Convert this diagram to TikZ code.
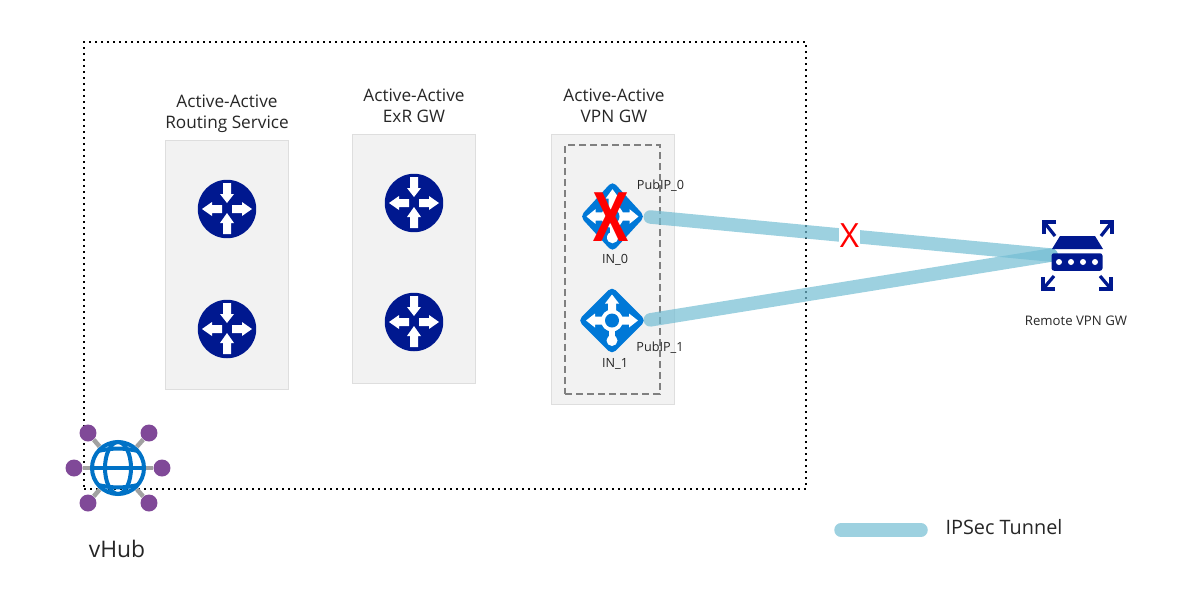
\documentclass[tikz,border=0pt]{standalone}
\usepackage{fontspec}
\setmainfont{Open Sans}
\usepackage{xcolor}
\usetikzlibrary{shapes.geometric}
\definecolor{rtrblue}{HTML}{00188F}
\definecolor{inblue}{HTML}{0078D7}
\definecolor{globeblue}{HTML}{0072C6}
\definecolor{hubpurple}{HTML}{804998}
\definecolor{tunnelblue}{RGB}{115,189,211}
\pgfdeclarelayer{front}
\pgfsetlayers{main,front}
% white arrow lying on the x axis: tail, head base, tip
\newcommand{\arrowshape}[3]{(#1,-4) -- (#2,-4) -- (#2,-7) -- (#3,0) -- (#2,7) -- (#2,4) -- (#1,4) -- cycle}

\begin{document}
\begin{tikzpicture}[
        x=0.02cm, y=-0.02cm,
        % boxes
        panel/.style={draw=black!13, fill=black!5, minimum width=2.46cm, minimum height=4.98cm},
        % icons
        rtr/.style={circle, fill=rtrblue, minimum size=1.17cm, inner sep=0pt},
        insta/.style={diamond, fill=inblue, rounded corners=0.1cm, inner sep=0pt, aspect=1},
        spoke/.style={circle, fill=hubpurple, minimum size=0.34cm, inner sep=0pt},
        tunnel/.style={line width=0.27cm, draw=tunnelblue, draw opacity=0.7, line cap=round},
        % text
        lbl/.style={align=center, inner sep=0pt, font=\fontsize{9.8}{12}\selectfont, text=black!85},
        tiny/.style={align=center, inner sep=0pt, font=\fontsize{7.2}{8}\selectfont, text=black!85},
        % icon interiors
        rtrarrows/.pic={
            \fill[white, rotate=90]  \arrowshape{26}{15}{6};
            \fill[white, rotate=-90] \arrowshape{25}{14}{4};
            \fill[white, rotate=180] \arrowshape{5}{15}{25};
            \fill[white]             \arrowshape{5}{15}{25};
        },
        inarrows/.pic={
            \fill[white, rotate=90]  \arrowshape{6}{17}{26};
            \fill[white, rotate=180] \arrowshape{6}{17}{26};
            \fill[white]             \arrowshape{6}{17}{26};
            \fill[white] (-3,0) rectangle (3,20);
            \fill[white] (0,20) circle (5.5);
            \fill[white] (0,0) circle (11);
            \fill[inblue] (0,0) circle (7);
        },
    ]
    \useasboundingbox (0,0) rectangle (1184,599);

    %% panels and frames
    \node[draw, line width=0.05cm, dash pattern=on 0.04cm off 0.08cm, minimum width=14.44cm, minimum height=8.94cm] (hub) at (445,265.5) {};
    \node[panel] (rspanel)  at (226.5,264.5) {};
    \node[panel] (exrpanel) at (414,258.5) {};
    \node[panel, minimum height=5.4cm] (vpnpanel) at (612.5,269) {};
    \node[draw=black!50, line width=0.03cm, dash pattern=on 0.14cm off 0.08cm, minimum width=1.9cm, minimum height=4.98cm] (inbox) at (612.5,269.5) {};

    %% titles
    \node[lbl] (rstitle)  at (227,114) {Active-Active\\Routing Service};
    \node[lbl] (exrtitle) at (414,106) {Active-Active\\ExR GW};
    \node[lbl] (vpntitle) at (614,106) {Active-Active\\VPN GW};

    %% routers
    \foreach \name/\px/\py in {rs0/227/209, rs1/227/329, exr0/414/203, exr1/414/322} {
        \node[rtr] (\name) at (\px,\py) {};
        \pic at (\name) {rtrarrows};
    }

    %% VPN instances
    \node[insta, minimum width=1.3cm, minimum height=1.42cm] (in0) at (612.5,216.5) {};
    \pic[yscale=1.05] at (in0) {inarrows};
    \node[insta, minimum width=1.36cm, minimum height=1.36cm] (in1) at (612,320.5) {};
    \pic at (in1) {inarrows};

    %% remote gateway
    \begin{pgfonlayer}{front}
        \node[fill=rtrblue, rounded corners=0.05cm, inner sep=0pt, minimum width=1.02cm, minimum height=0.35cm] (gw) at (1077,262) {};
        \fill[rtrblue] (1052,249) -- (1060,236) -- (1095,236) -- (1103,249) -- cycle;
        \foreach \px in {1059,1071,1083,1095}
            \fill[white] (\px,262) circle (3);
    \end{pgfonlayer}
    \foreach \cx/\cy/\sx/\sy/\ex/\ey in {1044/222/1/1/1055/236, 1112/222/-1/1/1101/236, 1043/289/1/-1/1054/276, 1111/289/-1/-1/1100/276} {
        \draw[rtrblue, line width=0.065cm] (\cx+12*\sx,\cy) -- (\cx,\cy) -- (\cx,\cy+12*\sy);
        \draw[rtrblue, line width=0.065cm] (\cx,\cy) -- (\ex,\ey);
    }

    %% tunnels
    \draw[tunnel, shorten <=0.1cm] (in0.east) -- (gw.165)
        node[pos=0.503, fill=white, text=red, inner xsep=0pt, inner ysep=0pt, minimum width=0.42cm, font=\fontsize{19}{19}\selectfont] (xmark) {X};
    \draw[tunnel, shorten <=0.08cm] (in1.east) -- (gw.165);

    %% labels of the instances
    \node[text=red, inner sep=0pt, font=\bfseries\fontsize{36}{36}\selectfont] (xin0) at (611.5,217) {\scalebox{0.83}[1.08]{X}};
    \node[tiny] (in0lbl) at (615,259.5) {IN\_0};
    \node[tiny] (in1lbl) at (615,364) {IN\_1};
    \node[tiny] (pub0)   at (660.5,186) {PubIP\_0};
    \node[tiny] (pub1)   at (660,347.5) {PubIP\_1};
    \node[tiny, font=\fontsize{7.5}{8}\selectfont] (gwlbl) at (1076,321) {Remote VPN GW};

    %% vHub
    \node[circle, inner sep=0pt, minimum size=1.12cm] (vhub) at (118,468) {};
    \foreach \name/\px/\py in {sp0/88/433, sp1/149/433, sp2/74/468, sp3/162/468, sp4/88/503, sp5/149/503} {
        \node[spoke] (\name) at (\px,\py) {};
        \draw[black!37, line width=0.09cm] (vhub) -- (\name);
    }
    \begin{scope}[shift={(vhub)}, globeblue, line width=0.08cm]
        \draw (0,0) circle (26);
        \draw (0,0) ellipse (13 and 26);
        \draw (-26,0) -- (26,0);
        \draw (-20,-17) to[bend left=12] (20,-17);
        \draw (-20,17) to[bend right=12] (20,17);
    \end{scope}
    \node[inner sep=0pt, font=\fontsize{13}{15}\selectfont, text=black!85] (vhublbl) at (117,549) {vHub};

    %% legend
    \coordinate (legstart) at (841,530);
    \node[inner sep=0pt, font=\fontsize{11.3}{13}\selectfont, text=black!85] (leglbl) at (1004,527) {IPSec Tunnel};
    \coordinate (legend) at (921,530);
    \draw[tunnel] (legstart) -- (legend);
\end{tikzpicture}
\end{document}
